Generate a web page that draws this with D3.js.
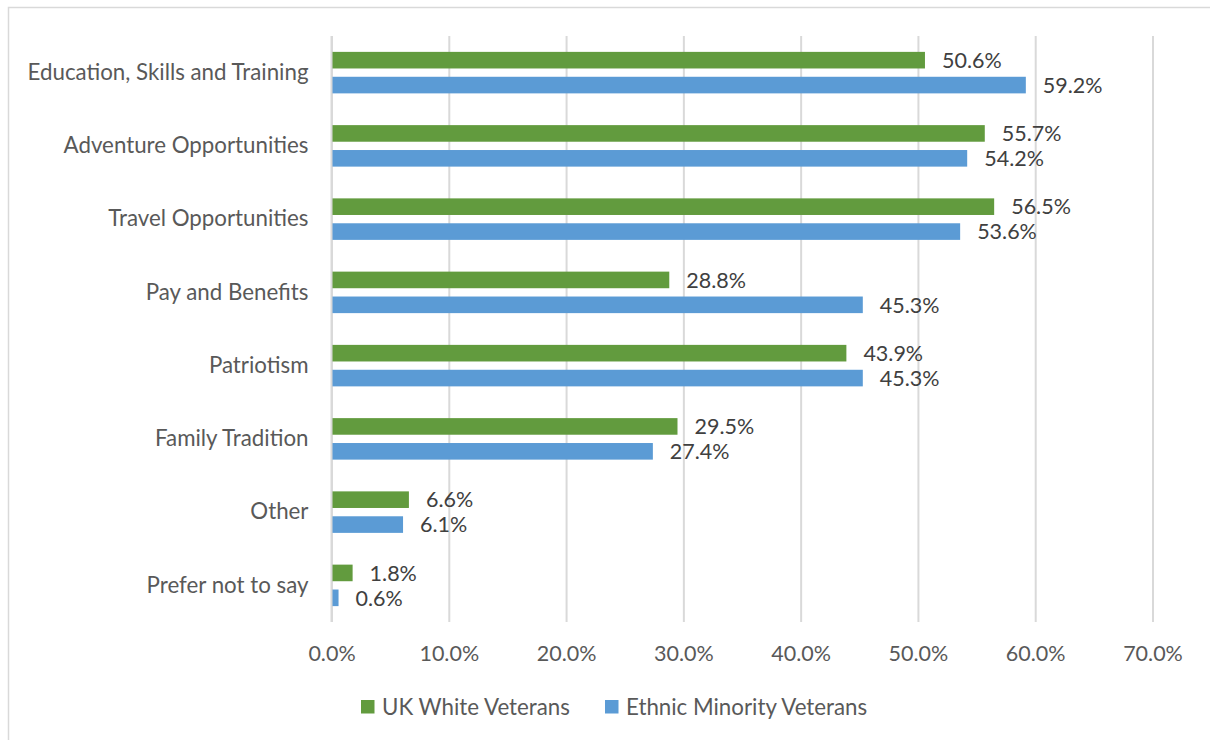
<!DOCTYPE html>
<html>
<head>
<meta charset="utf-8">
<script src="https://cdn.jsdelivr.net/npm/d3@7"></script>
<style>
  html, body { margin: 0; padding: 0; background: #fff; }
  svg { display: block; font-family: Lato, "Open Sans", sans-serif; }
</style>
</head>
<body>
<svg id="chart" width="1210" height="740"></svg>
<script>
// Reasons for joining the Armed Forces, by veteran group
const categories = [
  "Education, Skills and Training",
  "Adventure Opportunities",
  "Travel Opportunities",
  "Pay and Benefits",
  "Patriotism",
  "Family Tradition",
  "Other",
  "Prefer not to say"
];
const seriesNames = ["UK White Veterans", "Ethnic Minority Veterans"];
const ukWhite = [50.6, 55.7, 56.5, 28.8, 43.9, 29.5, 6.6, 1.8];
const ethnicMinority = [59.2, 54.2, 53.6, 45.3, 45.3, 27.4, 6.1, 0.6];
const xTicks = [0, 10, 20, 30, 40, 50, 60, 70];
const colors = ["#629B3E", "#5B9BD5"];

const textSize = "22.3px";
const numberSize = "21.5px";

const svg = d3.select("#chart");

// chart frame
svg.append("rect")
  .attr("x", 8.5).attr("y", 7.5)
  .attr("width", 1220).attr("height", 760)
  .attr("fill", "#fff").attr("stroke", "#d9d9d9").attr("stroke-width", 1.5);

const plot = { left: 331.5, right: 1152.5, top: 36, bottom: 622 };

const x = d3.scaleLinear().domain([0, 70]).range([plot.left, plot.right]);
const y = d3.scaleBand().domain(categories).range([plot.top, plot.bottom]);
const bw = y.bandwidth();
const ySeries = d3.scaleBand().domain(seriesNames)
  .range([bw / 2 - 20.75, bw / 2 + 20.75]).paddingInner(1 / 3);

// gridlines
const grid = svg.append("g")
  .attr("transform", `translate(0,${plot.bottom})`)
  .call(d3.axisBottom(x).tickValues(xTicks).tickSize(-(plot.bottom - plot.top)).tickFormat(""));
grid.select(".domain").remove();
grid.selectAll(".tick line").attr("stroke", "#d9d9d9").attr("stroke-width", 2);

// x tick labels
const xAxis = svg.append("g")
  .attr("transform", `translate(0,${plot.bottom})`)
  .call(d3.axisBottom(x).tickValues(xTicks).tickSize(0).tickPadding(0)
    .tickFormat(d => d.toFixed(1) + "%"));
xAxis.select(".domain").remove();
xAxis.selectAll("text")
  .attr("y", 31).attr("dy", "0.35em")
  .attr("fill", "#595959").style("font-size", numberSize).style("font-family", "Lato, sans-serif");

// category labels
const yAxis = svg.append("g")
  .attr("transform", `translate(${plot.left},0)`)
  .call(d3.axisLeft(y).tickSize(0).tickPadding(23));
yAxis.select(".domain").remove();
yAxis.selectAll("text")
  .attr("fill", "#595959").style("font-size", textSize).style("font-family", "Lato, sans-serif");

// bars
const rows = categories.map((c, i) => ({
  cat: c,
  vals: [
    { s: seriesNames[0], v: ukWhite[i], c: colors[0] },
    { s: seriesNames[1], v: ethnicMinority[i], c: colors[1] }
  ]
}));

const groups = svg.append("g").selectAll("g").data(rows).join("g")
  .attr("transform", d => `translate(0,${y(d.cat)})`);

groups.selectAll("rect").data(d => d.vals).join("rect")
  .attr("x", x(0))
  .attr("y", d => ySeries(d.s))
  .attr("width", d => x(d.v) - x(0))
  .attr("height", ySeries.bandwidth())
  .attr("fill", d => d.c);

groups.selectAll("text").data(d => d.vals).join("text")
  .attr("x", d => x(d.v) + 17)
  .attr("y", d => ySeries(d.s) + ySeries.bandwidth() / 2)
  .attr("dy", "0.36em")
  .attr("fill", "#404040")
  .style("font-size", numberSize)
  .text(d => d.v.toFixed(1) + "%");

// axis line at zero
svg.append("line")
  .attr("x1", x(0)).attr("x2", x(0))
  .attr("y1", plot.top).attr("y2", plot.bottom)
  .attr("stroke", "#d9d9d9").attr("stroke-width", 2);

// legend
const legendPos = [361, 605];
const legend = svg.append("g").selectAll("g").data(seriesNames).join("g")
  .attr("transform", (d, i) => `translate(${legendPos[i]},700)`);
legend.append("rect").attr("width", 13.5).attr("height", 13.5)
  .attr("fill", (d, i) => colors[i]);
legend.append("text")
  .attr("x", 21).attr("y", 7).attr("dy", "0.36em")
  .attr("fill", "#595959").style("font-size", textSize)
  .text(d => d);
</script>
</body>
</html>
